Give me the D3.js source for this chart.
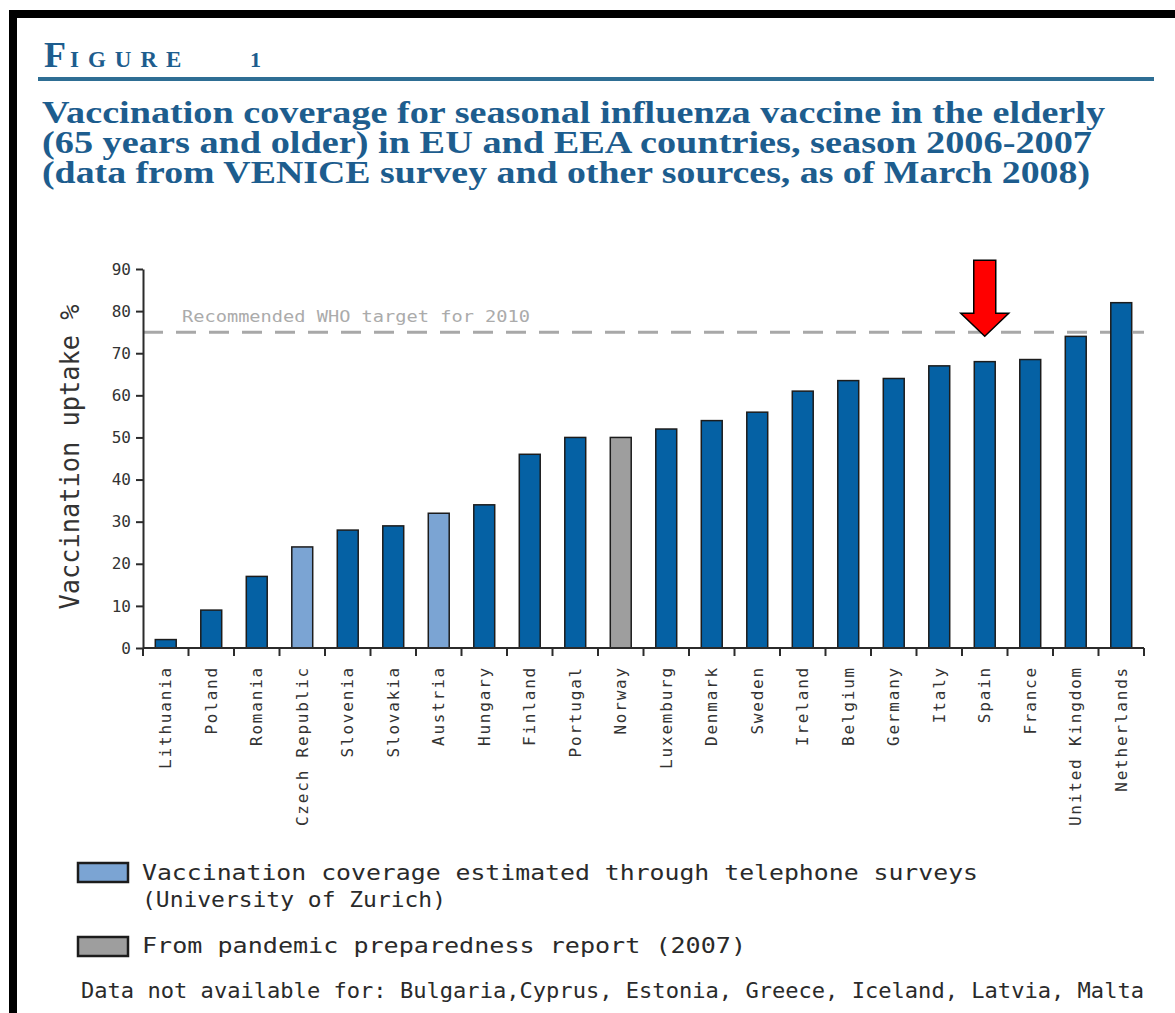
<!DOCTYPE html>
<html>
<head>
<meta charset="utf-8">
<script src="https://cdn.jsdelivr.net/npm/d3@7"></script>
<style>
  body { margin: 0; background: #fff; }
  svg { display: block; }
</style>
</head>
<body>
<div id="chart"></div>
<script>
// Data
let countries = ["Lithuania", "Poland", "Romania", "Czech Republic", "Slovenia", "Slovakia",
  "Austria", "Hungary", "Finland", "Portugal", "Norway", "Luxemburg", "Denmark", "Sweden",
  "Ireland", "Belgium", "Germany", "Italy", "Spain", "France", "United Kingdom", "Netherlands"];
let uptake = [2, 9, 17, 24, 28, 29, 32, 34, 46, 50, 50, 52, 54, 56, 61, 63.5, 64, 67, 68, 68.5, 74, 82];
// source: 0 = VENICE / national data, 1 = telephone survey, 2 = pandemic preparedness report
let source = [0, 0, 0, 1, 0, 0, 1, 0, 0, 0, 2, 0, 0, 0, 0, 0, 0, 0, 0, 0, 0, 0];
let yTicks = [0, 10, 20, 30, 40, 50, 60, 70, 80, 90];
let whoTarget = 75;
let highlighted = "Spain";

let titleLines = [
  "Vaccination coverage for seasonal influenza vaccine in the elderly",
  "(65 years and older) in EU and EEA countries, season 2006-2007",
  "(data from VENICE survey and other sources, as of March 2008)"
];
let legendLabels = [
  ["Vaccination coverage estimated through telephone surveys", "(University of Zurich)"],
  ["From pandemic preparedness report (2007)"]
];
let footNote = "Data not available for: Bulgaria,Cyprus, Estonia, Greece, Iceland, Latvia, Malta";

let svgWidth = 1175;
let svgHeight = 1013;
let colors = ["#0561a4", "#7ba4d3", "#9e9e9e"];
let ink = "#2b2b2b";
let titleBlue = "#1d5d8e";
let mono = "'DejaVu Sans Mono', 'Liberation Mono', monospace";
let serif = "'Liberation Serif', 'DejaVu Serif', serif";

let svg = d3.select("#chart")
  .append("svg")
  .attr("width", svgWidth)
  .attr("height", svgHeight);

// black frame (top + left)
svg.append("rect").attr("x", 9).attr("y", 10).attr("width", svgWidth - 9).attr("height", 8).attr("fill", "#000");
svg.append("rect").attr("x", 9).attr("y", 10).attr("width", 8).attr("height", svgHeight - 10).attr("fill", "#000");

// "FIGURE 1" heading
let fig = svg.append("text")
  .attr("x", 44).attr("y", 67)
  .attr("font-family", serif).attr("font-weight", "bold")
  .attr("fill", titleBlue);
fig.append("tspan").attr("font-size", 36).text("F");
fig.append("tspan").attr("font-size", 23).attr("dx", 4).attr("letter-spacing", 9).text("IGURE");
fig.append("tspan").attr("font-size", 22).attr("x", 250).text("1");

svg.append("line")
  .attr("x1", 38).attr("x2", 1154)
  .attr("y1", 79).attr("y2", 79)
  .attr("stroke", "#2e6e94").attr("stroke-width", 4);

// title
let titleWidths = [1063, 1050, 1048];
svg.selectAll(".title")
  .data(titleLines)
  .enter()
  .append("text")
  .attr("class", "title")
  .attr("x", 42)
  .attr("y", (d, i) => 123 + i * 30)
  .attr("font-family", serif).attr("font-weight", "bold")
  .attr("font-size", 32)
  .attr("fill", titleBlue)
  .attr("textLength", (d, i) => titleWidths[i])
  .attr("lengthAdjust", "spacingAndGlyphs")
  .text(d => d);

// scales
let x = d3.scaleBand()
  .domain(countries)
  .range([143, 1144])
  .paddingInner(0.54)
  .paddingOuter(0.27);

let y = d3.scaleLinear()
  .domain([0, 90])
  .range([648, 269]);

let chart = svg.append("g");

// WHO target line
chart.append("line")
  .attr("x1", 143).attr("x2", 1144)
  .attr("y1", y(whoTarget)).attr("y2", y(whoTarget))
  .attr("stroke", "#a8a8a8").attr("stroke-width", 3)
  .attr("stroke-dasharray", "20,13");

chart.append("text")
  .attr("x", 182).attr("y", y(whoTarget) - 10)
  .attr("font-family", mono).attr("font-size", 15)
  .attr("fill", "#ababab")
  .attr("textLength", 348).attr("lengthAdjust", "spacingAndGlyphs")
  .text("Recommended WHO target for 2010");

// bars
let rows = countries.map((c, i) => ({ country: c, value: uptake[i], src: source[i] }));

chart.selectAll(".bar")
  .data(rows)
  .enter()
  .append("rect")
  .attr("class", "bar")
  .attr("x", d => x(d.country))
  .attr("y", d => y(d.value))
  .attr("width", x.bandwidth())
  .attr("height", d => y(0) - y(d.value))
  .attr("fill", d => colors[d.src])
  .attr("stroke", "#1c1c1c")
  .attr("stroke-width", 1.5);

// y axis
let yAxis = d3.axisLeft(y)
  .tickValues(yTicks)
  .tickSize(7)
  .tickSizeOuter(0)
  .tickPadding(5);

let yG = chart.append("g")
  .attr("transform", "translate(143,0)")
  .call(yAxis);
yG.select(".domain").attr("stroke", ink).attr("stroke-width", 2);
yG.selectAll(".tick line").attr("stroke", ink).attr("stroke-width", 2);
yG.selectAll(".tick text")
  .attr("font-family", mono).attr("font-size", 16)
  .attr("fill", "#333");

// x axis: baseline with ticks between categories
let step = x.step();
let boundaries = d3.range(countries.length + 1).map(i => 143 + i * step);
chart.append("line")
  .attr("x1", 143).attr("x2", 1144)
  .attr("y1", y(0)).attr("y2", y(0))
  .attr("stroke", ink).attr("stroke-width", 2);
chart.selectAll(".xtick")
  .data(boundaries)
  .enter()
  .append("line")
  .attr("class", "xtick")
  .attr("x1", d => d).attr("x2", d => d)
  .attr("y1", y(0)).attr("y2", y(0) + 8)
  .attr("stroke", ink).attr("stroke-width", 2);

chart.selectAll(".xlabel")
  .data(countries)
  .enter()
  .append("text")
  .attr("class", "xlabel")
  .attr("transform", d => `translate(${x(d) + x.bandwidth() / 2}, 666) rotate(-90)`)
  .attr("dy", "0.35em")
  .attr("text-anchor", "end")
  .attr("font-family", mono).attr("font-size", 16)
  .attr("letter-spacing", 1.8)
  .attr("fill", "#333")
  .text(d => d);

// y axis title
svg.append("text")
  .attr("transform", "translate(79, 457) rotate(-90)")
  .attr("text-anchor", "middle")
  .attr("font-family", mono).attr("font-size", 27)
  .attr("fill", "#333")
  .attr("textLength", 305).attr("lengthAdjust", "spacingAndGlyphs")
  .text("Vaccination uptake %");

// red arrow pointing at highlighted bar
let ax = x(highlighted) + x.bandwidth() / 2;
let tipY = y(whoTarget) + 4;
svg.append("path")
  .attr("d", `M${ax - 11},${tipY - 76} L${ax + 11},${tipY - 76} L${ax + 11},${tipY - 23}
              L${ax + 24},${tipY - 23} L${ax},${tipY} L${ax - 24},${tipY - 23} L${ax - 11},${tipY - 23} Z`)
  .attr("fill", "#ff0000")
  .attr("stroke", "#000").attr("stroke-width", 1.5)
  .attr("stroke-linejoin", "miter");

// legend
let legend = svg.append("g");
let legendY = [863, 937];
let legendText = [[880, 907], [953]];
let legendWidths = [[836, 304], [604]];
legendLabels.forEach((lines, i) => {
  legend.append("rect")
    .attr("x", 78).attr("y", legendY[i])
    .attr("width", 50).attr("height", 19)
    .attr("fill", colors[i + 1])
    .attr("stroke", "#1c1c1c").attr("stroke-width", 2.5);
  lines.forEach((t, j) => {
    legend.append("text")
      .attr("x", 142).attr("y", legendText[i][j])
      .attr("font-family", mono).attr("font-size", 22)
      .attr("fill", "#2a2a2a")
      .attr("textLength", legendWidths[i][j]).attr("lengthAdjust", "spacingAndGlyphs")
      .text(t);
  });
});

legend.append("text")
  .attr("x", 81).attr("y", 998)
  .attr("font-family", mono).attr("font-size", 22)
  .attr("fill", "#2a2a2a")
  .attr("textLength", 1063).attr("lengthAdjust", "spacingAndGlyphs")
  .text(footNote);
</script>
</body>
</html>
